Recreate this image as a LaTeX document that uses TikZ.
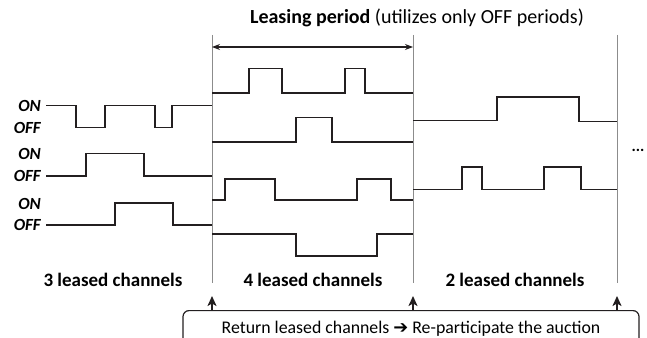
\documentclass[tikz,border=0pt]{standalone}
\usepackage{fontspec}
\setmainfont{Carlito}
\newfontfamily\symfont{DejaVu Sans}
\usetikzlibrary{arrows.meta, positioning}
\definecolor{waveblack}{HTML}{231F20}
\definecolor{rulegray}{HTML}{8C8C8C}
\tikzset{
  >={Stealth[length=8pt, width=6pt]},
  every picture/.style={line cap=butt, line join=miter},
  wave/.style={waveblack, line width=1.7pt},
  divider/.style={rulegray, line width=1pt},
  period/.style={<->, waveblack, line width=1.2pt},
  giveback/.style={->, >={Stealth[length=10pt, width=9pt, inset=2.5pt]}, waveblack, line width=1.7pt},
  lvl/.style={font=\fontsize{17}{17}\selectfont\bfseries\itshape, inner sep=0pt, anchor=east},
  count/.style={font=\fontsize{19}{19}\selectfont\bfseries, inner sep=0pt},
  note/.style={font=\fontsize{20}{20}\selectfont, inner sep=0pt},
  auction/.style={draw=waveblack, line width=1.2pt, rounded corners=6pt, minimum width=456pt,
    minimum height=36pt, anchor=north, font=\fontsize{17.8}{17.8}\selectfont, inner sep=0pt},
}

\begin{document}
\begin{tikzpicture}[x=1pt, y=-1pt]
  \useasboundingbox (0,0) rectangle (647,337);
  \clip (0,0) rectangle (647,337);
  % period boundaries
  \foreach \i/\x in {1/212, 2/413, 3/617} {
    \coordinate (top\i) at (\x,35);
    \coordinate (bot\i) at (\x,283);
    \coordinate (tip\i) at (\x,296);
    \draw[divider] (top\i) -- (bot\i);
  }
  % leasing period arrow and title
  \coordinate (lp1) at (212,47);
  \coordinate (lp2) at (413,47);
  \draw[period] (lp1) -- (lp2);
  \node[note] (title) at (417,18) {\textbf{Leasing period} (utilizes only OFF periods)};
  % ON / OFF levels of the three channels
  \foreach \n/\on/\off in {1/105.5/127.5, 2/153.5/176, 3/204/225} {
    \node[lvl] (on\n) at (41,\on) {ON};
    \node[lvl] (off\n) at (41,\off) {OFF};
  }
  % first period: 3 channels
  \draw[wave] (46,105.5) -- (76,105.5) -- (76,127.5) -- (105,127.5) -- (105,105.5) -- (155,105.5)
    -- (155,127.5) -- (172,127.5) -- (172,105.5) -- (212,105.5);
  \draw[wave] (46,176) -- (86,176) -- (86,153.5) -- (144,153.5) -- (144,176) -- (212,176);
  \draw[wave] (46,225) -- (115,225) -- (115,203) -- (173,203) -- (173,225) -- (212,225);
  % second period: 4 channels
  \draw[wave] (212,93) -- (249,93) -- (249,68.5) -- (282,68.5) -- (282,93) -- (345,93)
    -- (345,68.5) -- (365,68.5) -- (365,93) -- (413,93);
  \draw[wave] (212,142) -- (296,142) -- (296,117.5) -- (332,117.5) -- (332,142) -- (413,142);
  \draw[wave] (212,200) -- (225,200) -- (225,179) -- (275,179) -- (275,200) -- (357,200)
    -- (357,179) -- (391,179) -- (391,200) -- (413,200);
  \draw[wave] (212,234) -- (296,234) -- (296,256) -- (377,256) -- (377,234) -- (413,234);
  % third period: 2 channels
  \draw[wave] (413,120.5) -- (497,120.5) -- (497,97) -- (579,97) -- (579,121.5) -- (617,121.5);
  \draw[wave] (413,189.5) -- (462,189.5) -- (462,167) -- (482,167) -- (482,189.5) -- (544,189.5)
    -- (544,167) -- (581,167) -- (581,189.5) -- (617,189.5);
  \node[font=\fontsize{16}{16}\selectfont\bfseries, inner sep=0pt] (more) at (638,150) {...};
  % channel counts
  \node[count] (cnt1) at (113,280) {3 leased channels};
  \node[count] (cnt2) at (313,280) {4 leased channels};
  \node[count] (cnt3) at (515,280) {2 leased channels};
  % return to the auction
  \node[auction] (box) at (411,310) {Return leased channels {\symfont ➔} Re-participate the auction};
  \foreach \i in {1,2,3}
    \draw[giveback] (box.north -| tip\i) -- (tip\i);
\end{tikzpicture}
\end{document}
